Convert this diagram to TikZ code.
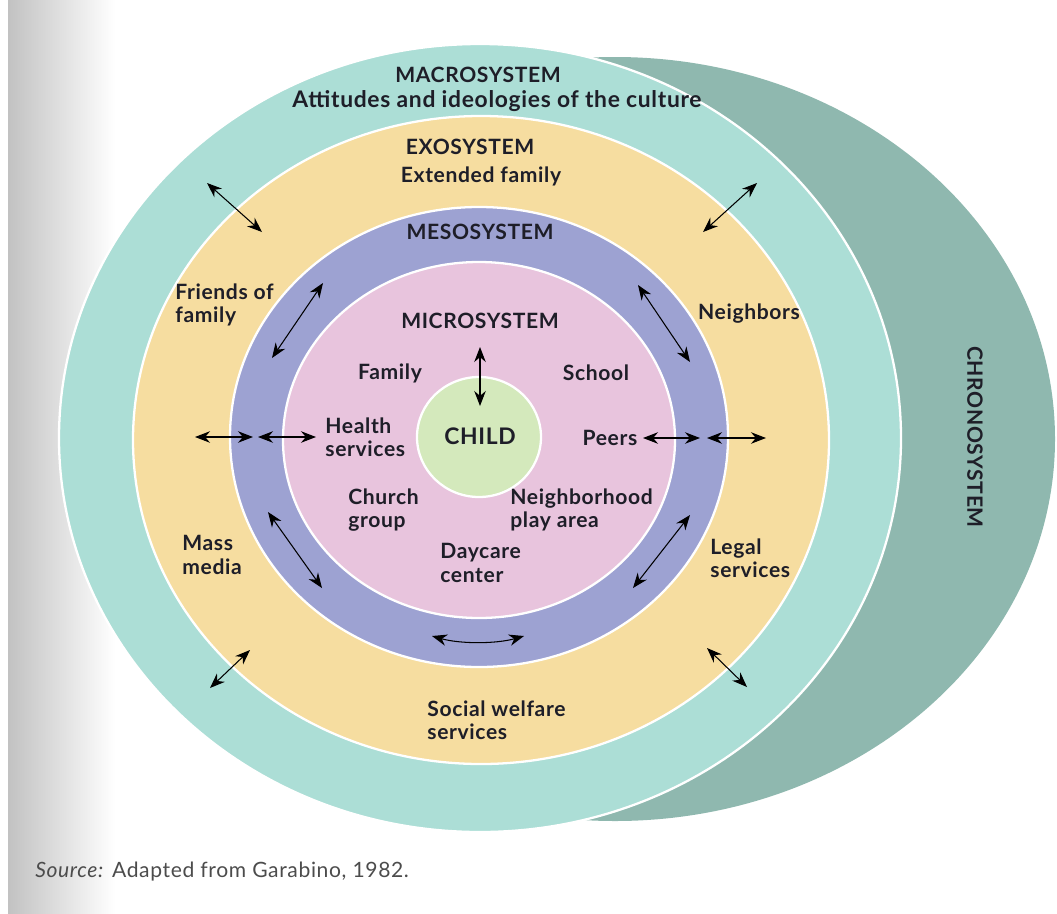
\documentclass[tikz,border=0pt]{standalone}
\usepackage{fontspec}
\setmainfont{Lato}[LetterSpace=3]
\usetikzlibrary{arrows.meta}

\definecolor{macrocol}{RGB}{172,222,214}
\definecolor{chronocol}{RGB}{143,184,175}
\definecolor{exocol}{RGB}{246,221,160}
\definecolor{mesocol}{RGB}{157,162,210}
\definecolor{microcol}{RGB}{232,196,221}
\definecolor{childcol}{RGB}{212,233,188}
\definecolor{inkcol}{RGB}{30,30,40}

\tikzset{
	ring/.style={draw=white, line width=1.3pt},
	lbl/.style={font=\bfseries\fontsize{12}{13.2}\selectfont, text=inkcol, align=left, inner sep=0pt},
	title/.style={lbl, align=center},
	twoway/.style={<->, >={Stealth[length=3mm,width=2.3mm]}, line width=0.6pt, color=black},
}

\begin{document}
\begin{tikzpicture}[x=0.02cm, y=-0.02cm]
		%%%%% START %%%%%
		\useasboundingbox (0,0) rectangle (1057,913);
		\shade[left color=black!24, right color=white] (8,0) rectangle (115,913);
		
		% the rings, back to front
		\fill[chronocol] (615,439) ellipse [x radius=440, y radius=382];
		\draw[ring, fill=macrocol] (480,438) ellipse [x radius=421, y radius=394];
		\draw[ring, fill=exocol] (481,440) ellipse [x radius=348, y radius=324];
		\draw[ring, fill=mesocol] (479,437) ellipse [x radius=249, y radius=230];
		\draw[ring, fill=microcol] (479,440) ellipse [x radius=196, y radius=178];
		\draw[ring, fill=childcol] (479,437) ellipse [x radius=62, y radius=60];
		
		% titles
		\node[title] (macro) at (478,75) {MACROSYSTEM};
		\node[title, font=\bfseries\fontsize{13}{15}\selectfont] (culture) at (497,101) {Attitudes and ideologies of the culture};
		\node[title] (exo) at (470,147) {EXOSYSTEM};
		\node[title] (extended) at (481,176) {Extended family};
		\node[title] (meso) at (480,232) {MESOSYSTEM};
		\node[title] (micro) at (480,321) {MICROSYSTEM};
		\node[title, font=\bfseries\fontsize{13}{15}\selectfont] (child) at (480,436) {CHILD};
		\node[title, rotate=-90] (chrono) at (975,437) {CHRONOSYSTEM};
		
		% microsystem settings
		\node[lbl] (family) at (390,373) {Family};
		\node[lbl] (school) at (596,373) {School};
		\node[lbl, anchor=west] (health) at (325,437) {Health\\services};
		\node[lbl] (peers) at (610,438) {Peers};
		\node[lbl, anchor=west] (church) at (348,510) {Church\\group};
		\node[lbl, anchor=west] (playarea) at (510,510) {Neighborhood\\play area};
		\node[lbl, anchor=west] (daycare) at (440,563) {Daycare\\center};
		
		% exosystem settings
		\node[lbl, anchor=west] (friends) at (175,305) {Friends of\\family};
		\node[lbl] (neighbors) at (749,314) {Neighbors};
		\node[lbl, anchor=west] (media) at (182,555) {Mass\\media};
		\node[lbl, anchor=west] (legal) at (710,558) {Legal\\services};
		\node[lbl, anchor=west] (welfare) at (427,720) {Social welfare\\services};
		
		% child -- microsystem
		\coordinate (cv1) at (480,347); \coordinate (cv2) at (480,406);
		\draw[twoway] (cv1) -- (cv2);
		
		% inside the mesosystem
		\coordinate (mul1) at (323,283); \coordinate (mul2) at (272,358);
		\draw[twoway] (mul1) -- (mul2);
		\coordinate (mur1) at (638,285); \coordinate (mur2) at (690,362);
		\draw[twoway] (mur1) -- (mur2);
		\coordinate (mll1) at (268,512); \coordinate (mll2) at (322,588);
		\draw[twoway] (mll1) -- (mll2);
		\coordinate (mlr1) at (690,515); \coordinate (mlr2) at (633,588);
		\draw[twoway] (mlr1) -- (mlr2);
		\coordinate (mb1) at (432,636); \coordinate (mb2) at (524,636);
		\draw[twoway] (mb1) .. controls (460,644) and (496,644) .. (mb2);
		
		% across the rings, left and right
		\coordinate (hl1) at (195,437); \coordinate (hl2) at (253,437);
		\draw[twoway] (hl1) -- (hl2);
		\coordinate (hl3) at (258,437); \coordinate (hl4) at (316,437);
		\draw[twoway] (hl3) -- (hl4);
		\coordinate (hr1) at (643,438); \coordinate (hr2) at (700,438);
		\draw[twoway] (hr1) -- (hr2);
		\coordinate (hr3) at (707,438); \coordinate (hr4) at (766,438);
		\draw[twoway] (hr3) -- (hr4);
		
		% exosystem -- macrosystem
		\coordinate (eul1) at (207,183); \coordinate (eul2) at (262,232);
		\draw[twoway] (eul1) -- (eul2);
		\coordinate (eur1) at (757,183); \coordinate (eur2) at (703,232);
		\draw[twoway] (eur1) -- (eur2);
		\coordinate (ell1) at (250,650); \coordinate (ell2) at (210,688);
		\draw[twoway] (ell1) -- (ell2);
		\coordinate (elr1) at (707,648); \coordinate (elr2) at (747,687);
		\draw[twoway] (elr1) -- (elr2);
		
		\node[anchor=west, inner sep=0pt, text=black!70, font=\fontsize{12}{14}\selectfont] (source) at (35,872) {\textit{Source:} Adapted from Garabino, 1982.};
		%%%%% END %%%%%
\end{tikzpicture}
\end{document}
